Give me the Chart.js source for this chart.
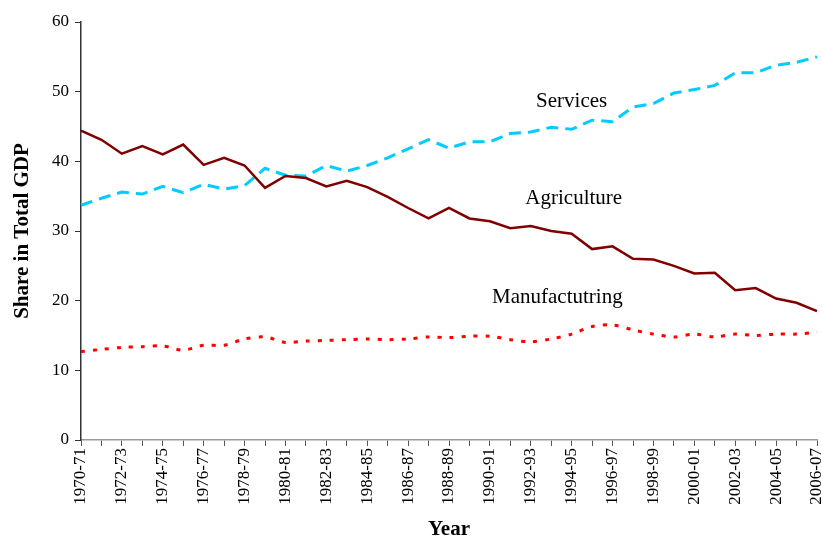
<!DOCTYPE html>
<html>
<head>
<meta charset="utf-8">
<script src="https://cdn.jsdelivr.net/npm/chart.js@4/dist/chart.umd.min.js"></script>
<style>
  html, body { margin: 0; padding: 0; background: #fff; }
  #wrap { width: 822px; height: 540px; }
</style>
</head>
<body>
<div id="wrap"><canvas id="grafico"></canvas></div>
<script>
// dados
const years = ['1970-71','1971-72','1972-73','1973-74','1974-75','1975-76','1976-77','1977-78','1978-79','1979-80',
  '1980-81','1981-82','1982-83','1983-84','1984-85','1985-86','1986-87','1987-88','1988-89','1989-90',
  '1990-91','1991-92','1992-93','1993-94','1994-95','1995-96','1996-97','1997-98','1998-99','1999-00',
  '2000-01','2001-02','2002-03','2003-04','2004-05','2005-06','2006-07']

const agriculture = [44.4, 43.1, 41.1, 42.2, 41.0, 42.4, 39.5, 40.5, 39.4, 36.2,
  37.9, 37.6, 36.4, 37.2, 36.3, 34.9, 33.3, 31.8, 33.3, 31.8,
  31.4, 30.4, 30.7, 30.0, 29.6, 27.4, 27.8, 26.0, 25.9, 25.0,
  23.9, 24.0, 21.5, 21.8, 20.3, 19.7, 18.5]

const services = [33.7, 34.7, 35.6, 35.3, 36.4, 35.5, 36.7, 36.0, 36.5, 39.0,
  38.0, 37.9, 39.4, 38.6, 39.4, 40.5, 41.8, 43.1, 41.9, 42.8,
  42.8, 44.0, 44.2, 44.9, 44.6, 45.9, 45.7, 47.8, 48.3, 49.8,
  50.3, 50.9, 52.7, 52.7, 53.8, 54.2, 55.0]

const manufacturing = [12.7, 13.0, 13.3, 13.4, 13.5, 12.9, 13.6, 13.6, 14.5, 14.8,
  14.0, 14.2, 14.3, 14.4, 14.5, 14.4, 14.5, 14.8, 14.7, 14.9,
  14.9, 14.4, 14.1, 14.5, 15.2, 16.3, 16.5, 15.8, 15.2, 14.8,
  15.2, 14.8, 15.2, 15.0, 15.2, 15.2, 15.5]

const yTicks = [0, 10, 20, 30, 40, 50, 60]

// rótulos dentro do gráfico: [índice do ano, valor]
const seriesNames = ['Services', 'Agriculture', 'Manufactutring']
const namePos = [[24.0, 48.6], [24.1, 34.7], [23.3, 20.4]]

const serif = '"Liberation Serif", "Times New Roman", serif'

Chart.defaults.font.family = serif
Chart.defaults.color = '#000'

const rotulos = {
  id: 'rotulos',
  afterDatasetsDraw(chart) {
    const { ctx, scales } = chart
    ctx.save()
    ctx.font = '21px ' + serif
    ctx.fillStyle = '#000'
    ctx.textAlign = 'center'
    ctx.textBaseline = 'middle'
    seriesNames.forEach((txt, i) => {
      const x = scales.x.getPixelForValue(namePos[i][0])
      const y = scales.y.getPixelForValue(namePos[i][1])
      ctx.fillText(txt, x, y)
    })
    ctx.restore()
  }
}

const data = {
  labels: years,
  datasets: [{
    label: 'Agriculture',
    data: agriculture,
    borderColor: '#800000',
    borderWidth: 2.5,
    pointRadius: 0,
    tension: 0
  }, {
    label: 'Services',
    data: services,
    borderColor: '#00ccff',
    borderWidth: 3,
    borderDash: [12, 7],
    pointRadius: 0,
    tension: 0
  }, {
    label: 'Manufactutring',
    data: manufacturing,
    borderColor: '#ff0000',
    borderWidth: 3,
    borderDash: [4, 8],
    pointRadius: 0,
    tension: 0.3
  }]
}

const config = {
  type: 'line',
  data,
  options: {
    responsive: true,
    maintainAspectRatio: false,
    animation: false,
    layout: { padding: { top: 22, right: 5, left: 0, bottom: 0 } },
    plugins: { legend: { display: false }, tooltip: { enabled: false } },
    scales: {
      x: {
        offset: false,
        grid: { drawOnChartArea: false, color: '#000', tickLength: 6, tickColor: '#555' },
        border: { color: '#999', width: 1.5 },
        ticks: {
          autoSkip: false,
          minRotation: 90,
          maxRotation: 90,
          padding: 2,
          font: { size: 17 },
          callback: function (v, i) { return i % 2 === 0 ? years[i] : '' }
        },
        title: { display: true, text: 'Year', font: { size: 21, weight: 'bold', lineHeight: 1 }, padding: { top: 4, bottom: 0 } },
        afterFit(scale) {
          scale.height = 100
          scale.paddingLeft = 0
          scale.paddingRight = 0
        }
      },
      y: {
        min: 0,
        max: 60,
        afterBuildTicks(scale) { scale.ticks = yTicks.map(v => ({ value: v })) },
        grid: { drawOnChartArea: false, tickLength: 6, tickColor: '#333' },
        border: { color: '#333', width: 1.5 },
        ticks: { padding: 6, font: { size: 17 } },
        title: { display: true, text: 'Share in Total GDP', font: { size: 21, weight: 'bold' }, padding: { top: 10, bottom: 4 } },
        afterFit(scale) { scale.width = 81 }
      }
    }
  },
  plugins: [rotulos]
}

const grafico = new Chart(document.getElementById('grafico'), config)
</script>
</body>
</html>
